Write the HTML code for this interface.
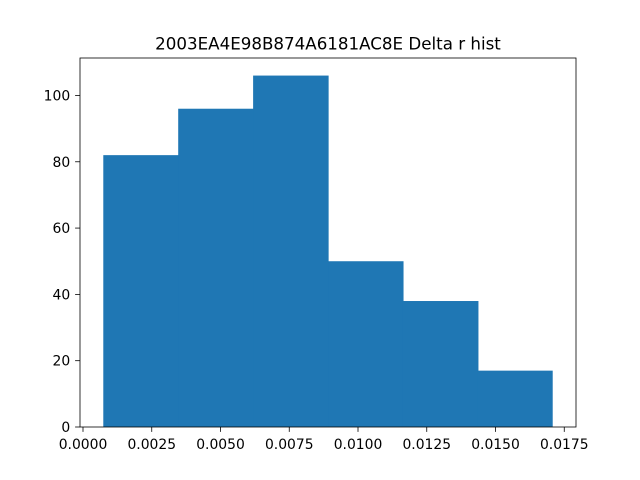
<!DOCTYPE html>
<html><head><meta charset="utf-8"><style>body{margin:0;background:#fff}svg{display:block;font-family:"DejaVu Sans","Liberation Sans",sans-serif}</style></head>
<body>
<svg id="c" width="640" height="480"></svg>
<script>
const binEdges=[0.000738,0.003462,0.006186,0.00891,0.011634,0.014358,0.01708];
const counts=[82,96,106,50,38,17];
const xTicks=[0,0.0025,0.005,0.0075,0.01,0.0125,0.015,0.0175];
const xTickLabels=["0.0000","0.0025","0.0050","0.0075","0.0100","0.0125","0.0150","0.0175"];
const yTicks=[0,20,40,60,80,100];
const L=80,R=576,T=58,B=427,xmin=-0.000109,xmax=0.017927,ymax=111.3;
const X=v=>L+(v-xmin)/(xmax-xmin)*(R-L);
const Y=v=>B-v/ymax*(B-T);
const s=document.getElementById('c');const NS='http://www.w3.org/2000/svg';
function mk(t,a,txt){const e=document.createElementNS(NS,t);for(const k in a)e.setAttribute(k,a[k]);if(txt!=null)e.textContent=txt;s.appendChild(e);return e;}
counts.forEach((c,i)=>{const r=mk('rect',{x:X(binEdges[i]),y:Y(c),width:X(binEdges[i+1])-X(binEdges[i])+(i<counts.length-1?0.6:0),height:B-Y(c),fill:'#1f77b4'});

});
const f=mk('rect',{x:L,y:T,width:R-L,height:B-T,fill:'none',stroke:'#000','stroke-width':0.8});


xTicks.forEach((v,i)=>{const x=X(v);mk('line',{x1:x,x2:x,y1:B,y2:B+4.9,stroke:'#000','stroke-width':0.8});
const t=mk('text',{x:x,y:B+22,'font-size':13.9,'text-anchor':'middle'},xTickLabels[i]);

});
yTicks.forEach(v=>{const y=Y(v);mk('line',{x1:L-4.9,x2:L,y1:y,y2:y,stroke:'#000','stroke-width':0.8});
const t=mk('text',{x:L-9.8,y:y+5,'font-size':13.9,'text-anchor':'end'},String(v));

});
const ti=mk('text',{x:(L+R)/2,y:T-8.5,'font-size':16.7,'text-anchor':'middle'},'2003EA4E98B874A6181AC8E Delta r hist');


</script>
</body></html>
